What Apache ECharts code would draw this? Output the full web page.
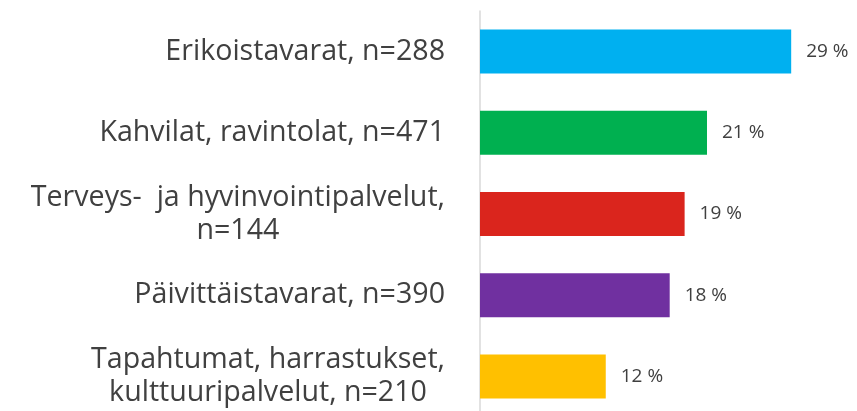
<!DOCTYPE html>
<html>
<head>
<meta charset="utf-8">
<script src="https://cdn.jsdelivr.net/npm/echarts@6/dist/echarts.min.js"></script>
<style>
  html, body { margin: 0; padding: 0; background: #fff; }
  #myChart { width: 857px; height: 411px; }
</style>
</head>
<body>
<div id="myChart"></div>
<script>
  // luokat ja osuudet (%)
  let categories = [
    'Erikoistavarat, n=288',
    'Kahvilat, ravintolat, n=471',
    'Terveys-  ja hyvinvointipalvelut,\nn=144',
    'Päivittäistavarat, n=390',
    'Tapahtumat, harrastukset,\nkulttuuripalvelut, n=210'
  ]
  let shares = [29.2, 21.3, 19.2, 17.8, 11.8]
  let barColors = ['#00B0F0', '#00B050', '#DA251D', '#7030A0', '#FFC000']

  let font = 'Open Sans'
  let myChart = echarts.init(document.getElementById('myChart'))

  let option = {
    animation: false,
    grid: {
      left: 480,
      right: 4,
      top: 11,
      height: 406,
      outerBoundsMode: 'none'
    },
    xAxis: {
      type: 'value',
      min: 0,
      max: 35,
      show: false
    },
    yAxis: {
      type: 'category',
      inverse: true,
      data: categories,
      axisLine: {
        show: true,
        lineStyle: { color: '#d9d9d9', width: 1.5 }
      },
      axisTick: { show: false },
      axisLabel: {
        margin: 35,
        color: '#404040',
        fontFamily: font,
        fontSize: 28.6,
        lineHeight: 33,
        formatter: function (val) {
          if (val.indexOf('\n') < 0) return val
          return val.split('\n').map(s => '{c|' + s + '}').join('\n')
        },
        rich: {
          c: {
            align: 'center',
            color: '#404040',
            fontFamily: font,
            fontSize: 28.6,
            lineHeight: 33
          }
        }
      }
    },
    series: [
      {
        type: 'bar',
        data: shares.map((v, i) => ({ value: v, itemStyle: { color: barColors[i] } })),
        barWidth: 44,
        label: {
          show: true,
          position: 'right',
          distance: 15,
          color: '#404040',
          fontFamily: font,
          fontSize: 19,
          formatter: p => Math.round(p.value) + ' %'
        }
      }
    ]
  }

  myChart.setOption(option, true)
</script>
</body>
</html>
